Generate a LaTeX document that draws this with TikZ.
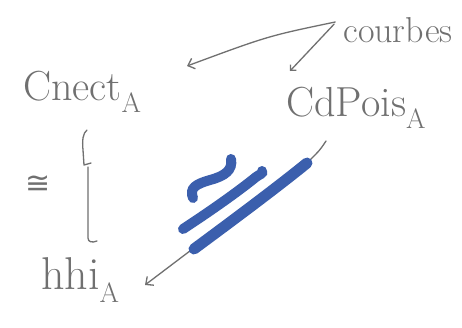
\documentclass[tikz,border=0pt]{standalone}
\usepackage{fontspec}
\newfontfamily\symfont{DejaVu Sans}
\usetikzlibrary{arrows.meta}
\definecolor{pen}{HTML}{707070}
\definecolor{ink}{HTML}{3B5FAD}
\newcommand{\subA}{\raisebox{-0.3em}{\fontsize{28}{32}\selectfont A}}
\begin{document}
\begin{tikzpicture}[x=1pt,y=-1pt,
  lbl/.style={text=pen,inner sep=0pt,font=\fontsize{42}{48}\selectfont},
  penline/.style={draw=pen,line width=1.3pt,line cap=round,line join=round},
  tip/.style={-{Straight Barb[length=6pt,width=11pt]}},
  smalltip/.style={-{Straight Barb[length=4pt,width=8pt]}},
  marker/.style={draw=ink,line width=10pt,line cap=round}]
\useasboundingbox[fill=white] (0,0) rectangle (462,327);
% labels
\node[lbl] (cnect) at (82,92) {Cnect\subA};
\node[lbl] (cdpois) at (356,108) {CdPois\subA};
\node[lbl,font=\fontsize{46}{52}\selectfont] (hhi) at (80,280) {hhi\subA};
\node[lbl,font=\fontsize{36}{42}\selectfont] (courbes) at (398,30) {courbes};
\node[lbl,font=\symfont\fontsize{30}{36}\selectfont] (iso) at (38,185) {≅};
% free ends
\coordinate (c1) at (187,66);
\coordinate (c2) at (290,71);
\coordinate (ht) at (87,130);
\coordinate (hb) at (88,238);
\coordinate (dt) at (326,141);
\coordinate (db) at (145,285);
% arrows from "courbes"
\draw[penline,tip] ([xshift=-8pt,yshift=8pt]courbes.west) .. controls (268,36) .. (c1);
\draw[penline,smalltip] ([xshift=-9pt,yshift=6pt]courbes.west) -- (c2);
% hook line
\draw[penline] (ht) .. controls (83,133) and (82,140) .. (83,150) -- (84,165) -- (91,163);
\draw[penline] (88,167) -- (hb) .. controls (88,242) and (92,243) .. (97,241);
% diagonal arrow
\draw[penline,tip] (dt) .. controls (320,150) .. (310,160) -- (db);
% blue marker strokes
\draw[marker,line width=11pt] (194,249) .. controls (240,215) and (280,185) .. (307,163);
\draw[marker] (183,229) .. controls (215,208) and (240,190) .. (256,177) .. controls (260,174) and (263,174) .. (262,171);
\draw[marker] (193,198) .. controls (189,188) and (196,184) .. (210,180) .. controls (225,176) and (233,170) .. (231,159);
\end{tikzpicture}
\end{document}
